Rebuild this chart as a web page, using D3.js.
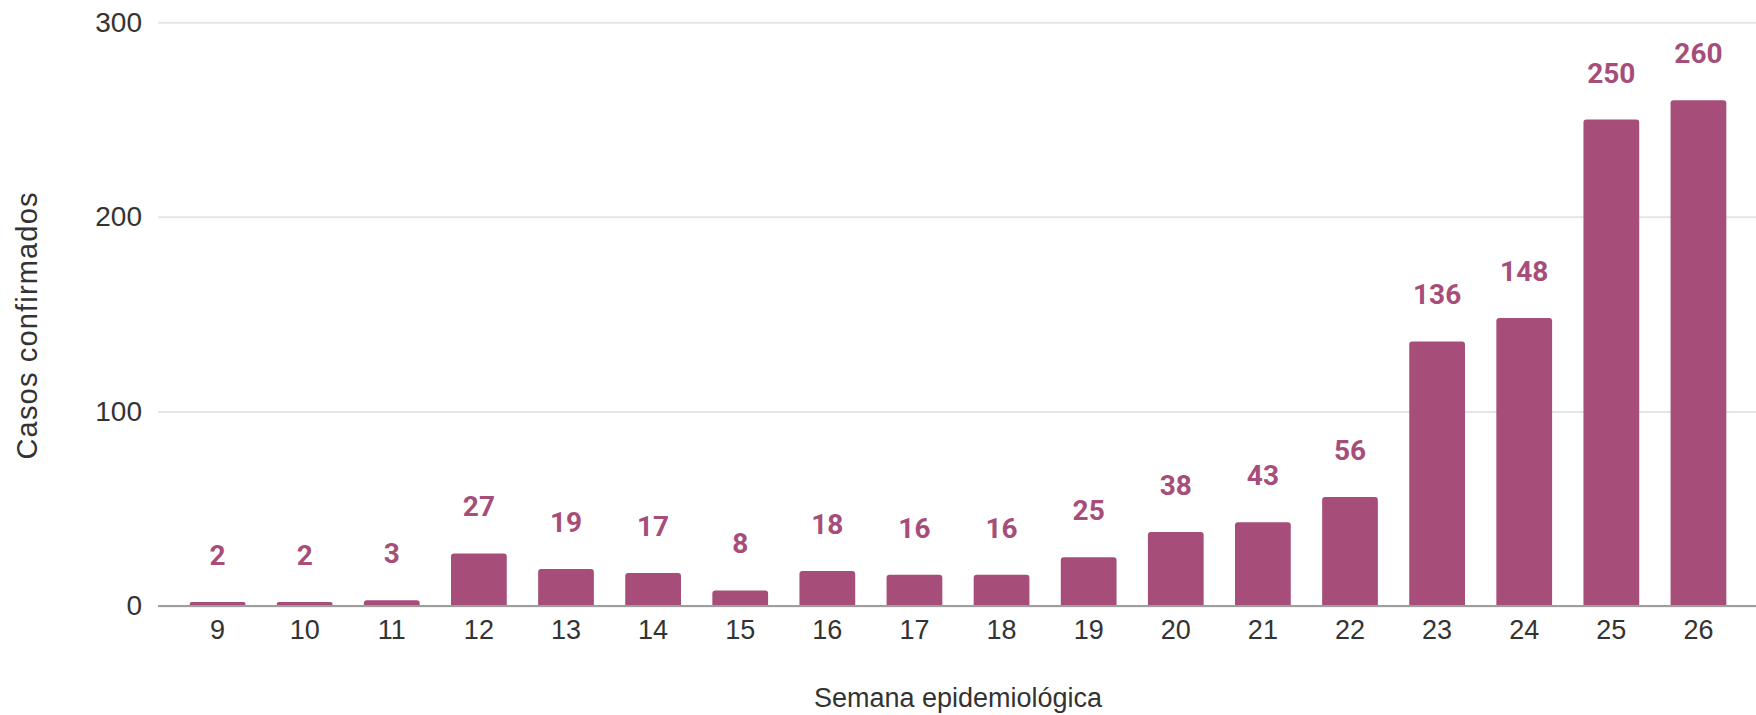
<!DOCTYPE html>
<head>
  <meta charset="utf-8">
  <script src="https://d3js.org/d3.v7.min.js"></script>
  <style>
    body {
      margin: 0;
      background-color: #fff;
    }
    .tick text {
      font-family: "Liberation Sans", Arial, sans-serif;
      fill: #333;
    }
  </style>
</head>
<body>
  <div id="chart"></div>
  <script>
    // weeks and confirmed cases
    var semanas = ['9', '10', '11', '12', '13', '14', '15', '16', '17', '18', '19', '20', '21', '22', '23', '24', '25', '26'];
    var casos = [2, 2, 3, 27, 19, 17, 8, 18, 16, 16, 25, 38, 43, 56, 136, 148, 250, 260];
    var yTicks = [0, 100, 200, 300];

    var width = 1756;
    var height = 715;
    var color = '#a64d79';

    var svg = d3.select('#chart').append('svg')
      .attr('width', width)
      .attr('height', height);

    var x = d3.scaleBand()
      .domain(semanas)
      .range([174, 1742])
      .paddingInner(0.36)
      .paddingOuter(0.18);

    var y = d3.scaleLinear()
      .domain([0, 300])
      .range([606, 22.3]);

    // gridlines + y labels
    var gy = svg.append('g')
      .attr('transform', 'translate(158,0)')
      .call(d3.axisLeft(y).tickValues(yTicks).tickSize(-(width - 158)).tickPadding(16));
    gy.select('.domain').remove();
    gy.selectAll('.tick line').attr('stroke', '#e5e5e5').attr('stroke-width', 2);
    gy.selectAll('.tick text').attr('font-size', 28);

    // bars with rounded top corners
    function barPath(d, i) {
      var x0 = x(semanas[i]);
      var w = x.bandwidth();
      var y0 = y(0);
      var y1 = y(d);
      var r = Math.min(3, (y0 - y1) / 2);
      return 'M' + x0 + ',' + y0 +
        'V' + (y1 + r) +
        'Q' + x0 + ',' + y1 + ' ' + (x0 + r) + ',' + y1 +
        'H' + (x0 + w - r) +
        'Q' + (x0 + w) + ',' + y1 + ' ' + (x0 + w) + ',' + (y1 + r) +
        'V' + y0 + 'Z';
    }

    svg.append('g').selectAll('path')
      .data(casos)
      .enter().append('path')
      .attr('d', barPath)
      .attr('fill', color);

    // value labels
    svg.append('g').selectAll('text')
      .data(casos)
      .enter().append('text')
      .attr('x', function(d, i) { return x(semanas[i]) + x.bandwidth() / 2; })
      .attr('y', function(d) { return y(d) - 37; })
      .attr('text-anchor', 'middle')
      .attr('font-family', 'Roboto, sans-serif')
      .attr('font-weight', 'bold')
      .attr('font-size', 28)
      .attr('fill', color)
      .text(function(d) { return d; });

    // x axis
    var gx = svg.append('g')
      .attr('transform', 'translate(0,' + y(0) + ')')
      .call(d3.axisBottom(x).tickSize(0).tickPadding(14));
    gx.select('.domain').remove();
    gx.selectAll('.tick text').attr('font-size', 27);

    // baseline
    svg.append('line')
      .attr('x1', 158)
      .attr('x2', width)
      .attr('y1', y(0))
      .attr('y2', y(0))
      .attr('stroke', '#9e9e9e')
      .attr('stroke-width', 2);

    // axis titles
    svg.append('text')
      .attr('x', 958)
      .attr('y', 707)
      .attr('text-anchor', 'middle')
      .attr('font-family', '"Liberation Sans", Arial, sans-serif')
      .attr('font-size', 27)
      .attr('fill', '#333')
      .text('Semana epidemiológica');

    svg.append('text')
      .attr('transform', 'translate(37,326) rotate(-90)')
      .attr('text-anchor', 'middle')
      .attr('font-family', '"Liberation Sans", Arial, sans-serif')
      .attr('font-size', 29)
      .attr('textLength', 267)
      .attr('fill', '#333')
      .text('Casos confirmados');
  </script>
</body>
